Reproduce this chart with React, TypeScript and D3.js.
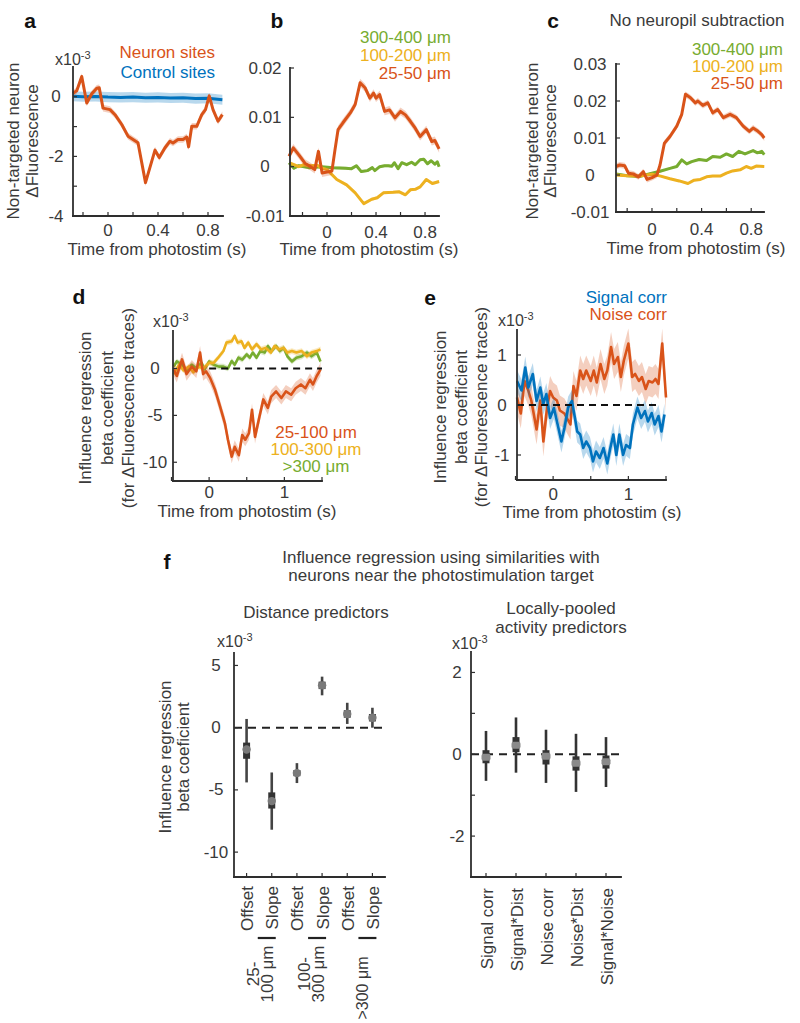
import React from "react";
import * as d3 from "d3";

type Pt = [number, number];

// ---------- Panel a (x10^-3) ----------
const neuronSitesA: Pt[] = [[-0.28,0.12],[-0.25,0.2],[-0.21,0.68],[-0.17,-0.21],[-0.13,0.1],[-0.09,0.29],[-0.07,0.3],[-0.04,-0.38],[0.016,-0.43],[0.056,-0.6],[0.11,-0.93],[0.16,-1.32],[0.2,-1.43],[0.24,-1.54],[0.3,-2.88],[0.376,-1.79],[0.41,-2.04],[0.456,-1.71],[0.496,-1.49],[0.52,-1.55],[0.56,-1.43],[0.6,-1.43],[0.63,-1.35],[0.645,-1.68],[0.67,-0.99],[0.71,-0.99],[0.75,-0.6],[0.78,-0.43],[0.81,0.03],[0.84,-0.43],[0.88,-0.82],[0.915,-0.6]];
const controlSitesA: Pt[] = [[-0.28,0.02],[-0.2,0.0],[-0.1,0.01],[0,-0.01],[0.1,-0.02],[0.2,-0.01],[0.3,-0.03],[0.4,-0.02],[0.5,-0.04],[0.6,-0.03],[0.7,-0.06],[0.8,-0.05],[0.915,-0.1]];

// ---------- Panel b ----------
const near25_50B: Pt[] = [[-0.31,0.0021],[-0.275,0.0038],[-0.23,0.0024],[-0.18,0.0007],[-0.14,0.0001],[-0.1,-0.0006],[-0.07,0.0031],[-0.04,-0.0013],[0.0,-0.0011],[0.04,-0.0009],[0.065,0.0034],[0.09,0.0075],[0.13,0.0089],[0.19,0.0109],[0.23,0.0126],[0.27,0.017],[0.31,0.016],[0.35,0.0139],[0.38,0.0149],[0.4,0.0139],[0.43,0.0146],[0.47,0.0112],[0.51,0.0115],[0.555,0.0099],[0.6,0.0112],[0.64,0.0105],[0.68,0.0092],[0.72,0.0078],[0.76,0.0061],[0.81,0.0075],[0.855,0.0051],[0.88,0.0053],[0.915,0.0036]];
const mid100_200B: Pt[] = [[-0.3,0.0007],[-0.26,0.0003],[-0.23,0.0],[-0.19,0.0004],[-0.13,0.0002],[-0.08,0.0003],[-0.04,-0.0003],[0.0,-0.0006],[0.08,-0.0026],[0.16,-0.0037],[0.23,-0.0053],[0.3,-0.0075],[0.365,-0.0066],[0.41,-0.0063],[0.46,-0.0053],[0.54,-0.0052],[0.59,-0.0051],[0.64,-0.0057],[0.68,-0.0047],[0.72,-0.0046],[0.76,-0.0041],[0.81,-0.0026],[0.86,-0.0034],[0.915,-0.003]];
const far300_400B: Pt[] = [[-0.31,0.0008],[-0.27,-0.0003],[-0.23,0.0002],[-0.15,-0.0002],[-0.05,0.0],[0.05,-0.0002],[0.15,-0.0003],[0.2,-0.0004],[0.24,0.0002],[0.28,-0.001],[0.33,-0.0008],[0.37,-0.0002],[0.39,-0.0008],[0.43,0.0],[0.47,0.0002],[0.5,0.0002],[0.53,0.0001],[0.55,0.0008],[0.58,-0.0004],[0.61,0.0008],[0.65,0.0004],[0.69,0.0009],[0.72,0.0004],[0.76,0.0014],[0.79,0.0015],[0.82,0.0006],[0.85,0.0012],[0.88,0.0005],[0.9,0.001],[0.915,0.0]];

// ---------- Panel c ----------
const near25_50C: Pt[] = [[-0.29,0.0023],[-0.26,0.0027],[-0.22,0.0025],[-0.19,0.0005],[-0.15,0.0003],[-0.11,-0.0005],[-0.07,0.0009],[-0.04,-0.0012],[0.0,-0.0007],[0.04,0.0],[0.065,0.0027],[0.1,0.0086],[0.145,0.0104],[0.2,0.0132],[0.24,0.0164],[0.27,0.0218],[0.31,0.0209],[0.35,0.0195],[0.37,0.02],[0.41,0.0188],[0.45,0.0195],[0.49,0.0168],[0.53,0.0177],[0.575,0.0155],[0.63,0.0164],[0.68,0.0155],[0.735,0.0132],[0.785,0.0118],[0.815,0.0127],[0.855,0.0118],[0.885,0.0109],[0.905,0.01]];
const mid100_200C: Pt[] = [[-0.29,0.0],[-0.2,-0.0002],[-0.1,-0.0003],[0.0,0.0002],[0.07,-0.0003],[0.145,-0.001],[0.22,-0.0016],[0.29,-0.0023],[0.34,-0.0014],[0.39,-0.0012],[0.44,-0.0005],[0.49,-0.0003],[0.55,-0.0003],[0.6,0.0005],[0.65,0.0011],[0.71,0.0014],[0.76,0.0023],[0.8,0.0018],[0.84,0.0024],[0.905,0.0023]];
const far300_400C: Pt[] = [[-0.29,0.0003],[-0.2,-0.0002],[-0.1,-0.0004],[0.0,0.0005],[0.065,0.001],[0.145,0.0018],[0.2,0.0023],[0.24,0.0041],[0.28,0.003],[0.32,0.0036],[0.38,0.0042],[0.44,0.0039],[0.49,0.005],[0.55,0.0048],[0.6,0.0057],[0.65,0.005],[0.7,0.0064],[0.75,0.0057],[0.815,0.0066],[0.85,0.006],[0.885,0.0064],[0.905,0.0055]];

// ---------- Panel d (x10^-3) ----------
const d25_100: Pt[] = [[-0.47,-0.1],[-0.43,-0.8],[-0.36,0.97],[-0.3,-0.6],[-0.23,0.2],[-0.17,-0.3],[-0.12,1.7],[-0.08,-0.6],[-0.04,-0.3],[0.013,-1.0],[0.08,-2.3],[0.145,-4.05],[0.21,-5.85],[0.25,-7.6],[0.3,-9.4],[0.34,-8.35],[0.395,-9.25],[0.44,-7.1],[0.48,-7.6],[0.53,-6.9],[0.57,-4.4],[0.61,-7.3],[0.67,-5.1],[0.72,-3.3],[0.78,-4.2],[0.825,-3.0],[0.89,-2.45],[0.96,-3.15],[1.02,-2.45],[1.09,-2.8],[1.15,-2.1],[1.22,-1.7],[1.28,-2.1],[1.34,-1.2],[1.38,-1.7],[1.43,-0.8],[1.46,-0.4],[1.48,-0.1]];
const d100_300: Pt[] = [[-0.47,-0.6],[-0.4,0.4],[-0.34,-0.2],[-0.27,0.2],[-0.21,-0.4],[-0.14,0.2],[-0.08,0.0],[0.0,0.6],[0.06,0.6],[0.12,1.15],[0.19,1.86],[0.23,2.76],[0.3,2.9],[0.34,3.47],[0.38,2.76],[0.43,2.9],[0.47,2.2],[0.52,2.76],[0.57,2.04],[0.63,2.6],[0.69,2.04],[0.75,2.2],[0.82,1.7],[0.87,2.4],[0.93,2.04],[0.99,2.2],[1.04,1.7],[1.1,1.86],[1.16,1.7],[1.23,1.86],[1.3,1.3],[1.36,1.7],[1.43,1.86],[1.48,2.04]];
const d300plus: Pt[] = [[-0.47,0.2],[-0.43,0.75],[-0.36,0.4],[-0.3,-0.2],[-0.23,0.4],[-0.17,0.0],[-0.1,0.6],[-0.06,-0.1],[0.0,0.75],[0.06,0.4],[0.13,0.2],[0.19,0.2],[0.25,0.0],[0.3,0.8],[0.34,0.4],[0.39,1.15],[0.44,0.95],[0.5,1.5],[0.54,1.15],[0.58,1.7],[0.63,1.15],[0.68,1.86],[0.74,1.7],[0.78,2.4],[0.83,1.86],[0.89,2.4],[0.94,1.86],[0.99,2.2],[1.04,1.3],[1.1,0.75],[1.16,1.15],[1.23,1.3],[1.3,1.7],[1.36,1.3],[1.43,1.7],[1.48,0.75]];

// ---------- Panel e (x10^-3) ----------
const signalCorrE: Pt[] = [[-0.48,0.48],[-0.42,0.29],[-0.37,0.75],[-0.33,0.35],[-0.27,0.62],[-0.22,0.08],[-0.17,0.35],[-0.13,0.02],[-0.09,0.22],[-0.04,-0.26],[0.01,-0.06],[0.06,-0.39],[0.11,-0.73],[0.15,-0.46],[0.2,-0.05],[0.25,0.08],[0.29,-0.26],[0.32,-0.53],[0.36,-0.59],[0.4,-0.86],[0.44,-0.73],[0.49,-0.86],[0.53,-1.13],[0.57,-0.93],[0.62,-1.06],[0.67,-0.86],[0.72,-1.17],[0.76,-0.86],[0.8,-0.59],[0.84,-1.0],[0.88,-0.59],[0.93,-1.0],[0.97,-0.8],[1.02,-0.86],[1.06,-0.39],[1.12,-0.05],[1.17,-0.26],[1.22,-0.12],[1.26,-0.33],[1.31,-0.16],[1.35,-0.39],[1.4,-0.22],[1.44,-0.53],[1.48,-0.19]];
const noiseCorrE: Pt[] = [[-0.48,0.15],[-0.43,-0.17],[-0.38,0.48],[-0.33,0.29],[-0.29,0.09],[-0.22,-0.49],[-0.17,0.09],[-0.13,-0.73],[-0.08,-0.05],[-0.04,0.28],[0.0,0.15],[0.05,0.09],[0.09,-0.11],[0.15,-0.17],[0.23,-0.39],[0.27,0.38],[0.31,0.18],[0.36,0.69],[0.4,0.52],[0.44,0.69],[0.5,0.48],[0.54,0.69],[0.58,0.45],[0.63,0.82],[0.68,0.52],[0.72,0.69],[0.77,1.16],[0.81,0.82],[0.86,0.96],[0.9,0.56],[0.94,0.89],[1.0,1.23],[1.05,0.56],[1.09,0.62],[1.14,0.48],[1.18,0.56],[1.23,0.32],[1.27,0.48],[1.32,0.45],[1.36,0.52],[1.4,0.42],[1.45,1.23],[1.5,0.15]];

// ---------- Panel f (x10^-3) ----------
const distCats = ["Offset", "Slope", "Offset", "Slope", "Offset", "Slope"];
const distMean = [-1.75, -5.9, -3.65, 3.4, 1.1, 0.8];
const distLo = [-4.4, -8.2, -4.45, 2.6, 0.3, 0.0];
const distHi = [0.7, -3.6, -2.85, 4.1, 2.0, 1.6];
const distBoxLo = [-2.5, -6.5, -3.9, 3.1, 0.8, 0.5];
const distBoxHi = [-1.2, -5.2, -3.4, 3.7, 1.4, 1.1];
const distGroups = [["25-", "100 μm"], ["100-", "300 μm"], [">300 μm"]];

const actCats = ["Signal corr", "Signal*Dist", "Noise corr", "Noise*Dist", "Signal*Noise"];
const actMean = [-0.07, 0.22, -0.05, -0.22, -0.18];
const actLo = [-0.65, -0.45, -0.7, -0.92, -0.8];
const actHi = [0.57, 0.9, 0.6, 0.5, 0.42];
const actBoxLo = [-0.22, 0.05, -0.25, -0.4, -0.35];
const actBoxHi = [0.1, 0.42, 0.1, -0.05, -0.03];

const ORANGE = "#D95319";
const BLUE = "#0072BD";
const YELLOW = "#EDB120";
const GREEN = "#77AC30";
const TXT = "#3a3a3a";
const AX = "#2e2e2e";
const FONT = "'Liberation Sans', Arial, Helvetica, sans-serif";
const FS = 17;

type Scale = d3.ScaleLinear<number, number>;

function Trace({ data, xs, ys, color, err, w = 3 }: { data: Pt[]; xs: Scale; ys: Scale; color: string; err: number; w?: number }) {
  const area = d3.area<Pt>().x((d) => xs(d[0])).y0((d) => ys(d[1] - err)).y1((d) => ys(d[1] + err));
  const line = d3.line<Pt>().x((d) => xs(d[0])).y((d) => ys(d[1]));
  return (
    <g>
      <path d={area(data) || ""} fill={color} opacity={0.28} />
      <path d={line(data) || ""} fill="none" stroke={color} strokeWidth={w} strokeLinejoin="round" />
    </g>
  );
}

function Axes({ xs, ys, xTicks, xLabeled, yTicks, yLabeled, yLabX, xLabY }: { xs: Scale; ys: Scale; xTicks: number[]; xLabeled: number[]; yTicks: number[]; yLabeled: number[]; yLabX: number; xLabY: number }) {
  const [x0, x1] = xs.range();
  const [yb, yt] = ys.range();
  return (
    <g>
      <line x1={x0} y1={yb} x2={x1} y2={yb} stroke={AX} strokeWidth={1.8} strokeLinecap="square" />
      <line x1={x0} y1={yb} x2={x0} y2={yt} stroke={AX} strokeWidth={1.8} strokeLinecap="square" />
      {xTicks.map((t, i) => (
        <line key={"xt" + i} x1={xs(t)} x2={xs(t)} y1={yb} y2={yb - 4} stroke={AX} strokeWidth={1.2} />
      ))}
      {yTicks.map((t, i) => (
        <line key={"yt" + i} x1={x0} x2={x0 + 4} y1={ys(t)} y2={ys(t)} stroke={AX} strokeWidth={1.2} />
      ))}
      {xLabeled.map((t, i) => (
        <text key={"xl" + i} x={xs(t)} y={xLabY} textAnchor="middle" dominantBaseline="central" fontSize={FS} fill={TXT}>
          {String(t)}
        </text>
      ))}
      {yLabeled.map((t, i) => (
        <text key={"yl" + i} x={yLabX} y={ys(t)} textAnchor="middle" dominantBaseline="central" fontSize={FS} fill={TXT}>
          {String(t)}
        </text>
      ))}
    </g>
  );
}

function RotText({ x, y, children, anchor = "middle", size = FS, fill = TXT }: { x: number; y: number; children: React.ReactNode; anchor?: string; size?: number; fill?: string }) {
  return (
    <text transform={`translate(${x},${y}) rotate(-90)`} textAnchor={anchor as any} dominantBaseline="central" fontSize={size} fill={fill}>
      {children}
    </text>
  );
}

function Txt({ x, y, children, anchor = "middle", size = FS, fill = TXT, weight = "normal" }: { x: number; y: number; children: React.ReactNode; anchor?: string; size?: number; fill?: string; weight?: string }) {
  return (
    <text x={x} y={y} textAnchor={anchor as any} dominantBaseline="central" fontSize={size} fill={fill} fontWeight={weight}>
      {children}
    </text>
  );
}

function Exp({ x, y }: { x: number; y: number }) {
  return (
    <text x={x} y={y} fontSize={16} fill={TXT}>
      x10<tspan dy={-6} fontSize={11}>-3</tspan>
    </text>
  );
}

export default function App() {
  const ax = d3.scaleLinear().domain([-0.28, 0.92]).range([73, 223]);
  const ay = d3.scaleLinear().domain([-4, 1]).range([216, 67]);
  const bx = d3.scaleLinear().domain([-0.302, 0.914]).range([290, 439]);
  const by = d3.scaleLinear().domain([-0.01, 0.02]).range([216, 68]);
  const cx = d3.scaleLinear().domain([-0.29, 0.903]).range([616, 764]);
  const cy = d3.scaleLinear().domain([-0.01, 0.03]).range([212, 64]);
  const dx = d3.scaleLinear().domain([-0.48, 1.5]).range([173, 322]);
  const dy = d3.scaleLinear().domain([-12, 4]).range([481, 331]);
  const ex = d3.scaleLinear().domain([-0.48, 1.5]).range([517, 666]);
  const ey = d3.scaleLinear().domain([-1.5, 1.5]).range([480, 330]);
  const fx = d3.scaleLinear().domain([0.5, 6.5]).range([234, 385]);
  const fy = d3.scaleLinear().domain([-12, 6]).range([877, 653]);
  const gx = d3.scaleLinear().domain([0.5, 5.5]).range([471, 621]);
  const gy = d3.scaleLinear().domain([-3, 2.5]).range([877, 652]);

  const tA = [-0.2, 0, 0.2, 0.4, 0.6, 0.8];
  const tD = [-0.5, 0, 0.5, 1, 1.5];

  return (
    <svg width={800} height={1023} style={{ position: "absolute", left: 0, top: 0, background: "#fff" }} fontFamily={FONT}>
      {/* Panel letters */}
      <Txt x={30} y={20} size={21} weight="bold" fill="#111">a</Txt>
      <Txt x={277} y={20} size={21} weight="bold" fill="#111">b</Txt>
      <Txt x={553} y={20} size={21} weight="bold" fill="#111">c</Txt>
      <Txt x={79} y={296} size={21} weight="bold" fill="#111">d</Txt>
      <Txt x={430} y={297} size={21} weight="bold" fill="#111">e</Txt>
      <Txt x={167} y={561} size={21} weight="bold" fill="#111">f</Txt>

      {/* ---------- a ---------- */}
      <Trace data={controlSitesA} xs={ax} ys={ay} color={BLUE} err={0.17} />
      <Trace data={neuronSitesA} xs={ax} ys={ay} color={ORANGE} err={0.11} />
      <Axes xs={ax} ys={ay} xTicks={tA} xLabeled={[0, 0.4, 0.8]} yTicks={[-4, -3, -2, -1, 0]} yLabeled={[-4, -2, 0]} yLabX={56} xLabY={230} />
      <Exp x={55} y={65} />
      <Txt x={215} y={52} anchor="end" fill={ORANGE}>Neuron sites</Txt>
      <Txt x={215} y={72} anchor="end" fill={BLUE}>Control sites</Txt>
      <RotText x={13} y={141}>Non-targeted neuron</RotText>
      <RotText x={32} y={141}>ΔFluorescence</RotText>
      <Txt x={157} y={249}>Time from photostim (s)</Txt>

      {/* ---------- b ---------- */}
      <Trace data={far300_400B} xs={bx} ys={by} color={GREEN} err={0.0003} />
      <Trace data={mid100_200B} xs={bx} ys={by} color={YELLOW} err={0.0003} />
      <Trace data={near25_50B} xs={bx} ys={by} color={ORANGE} err={0.0008} />
      <Axes xs={bx} ys={by} xTicks={tA} xLabeled={[0, 0.4, 0.8]} yTicks={[-0.01, 0, 0.01, 0.02]} yLabeled={[-0.01, 0, 0.01, 0.02]} yLabX={265} xLabY={232} />
      <Txt x={451} y={37} anchor="end" fill={GREEN}>300-400 μm</Txt>
      <Txt x={451} y={55} anchor="end" fill={YELLOW}>100-200 μm</Txt>
      <Txt x={451} y={73} anchor="end" fill={ORANGE}>25-50 μm</Txt>
      <Txt x={369} y={249}>Time from photostim (s)</Txt>

      {/* ---------- c ---------- */}
      <Trace data={far300_400C} xs={cx} ys={cy} color={GREEN} err={0.0003} />
      <Trace data={mid100_200C} xs={cx} ys={cy} color={YELLOW} err={0.0003} />
      <Trace data={near25_50C} xs={cx} ys={cy} color={ORANGE} err={0.0008} />
      <Axes xs={cx} ys={cy} xTicks={tA} xLabeled={[0, 0.4, 0.8]} yTicks={[-0.01, 0, 0.01, 0.02, 0.03]} yLabeled={[-0.01, 0, 0.01, 0.02, 0.03]} yLabX={590} xLabY={229} />
      <Txt x={697} y={20}>No neuropil subtraction</Txt>
      <Txt x={783} y={49} anchor="end" fill={GREEN}>300-400 μm</Txt>
      <Txt x={783} y={66} anchor="end" fill={YELLOW}>100-200 μm</Txt>
      <Txt x={783} y={83} anchor="end" fill={ORANGE}>25-50 μm</Txt>
      <RotText x={532} y={141}>Non-targeted neuron</RotText>
      <RotText x={550} y={141}>ΔFluorescence</RotText>
      <Txt x={696} y={248}>Time from photostim (s)</Txt>

      {/* ---------- d ---------- */}
      <Trace data={d300plus} xs={dx} ys={dy} color={GREEN} err={0.3} w={2.6} />
      <Trace data={d100_300} xs={dx} ys={dy} color={YELLOW} err={0.3} w={2.6} />
      <Trace data={d25_100} xs={dx} ys={dy} color={ORANGE} err={0.7} w={2.6} />
      <line x1={dx(0)} x2={dx(1.5)} y1={dy(0)} y2={dy(0)} stroke="#111" strokeWidth={1.8} strokeDasharray="7,5" />
      <Axes xs={dx} ys={dy} xTicks={tD} xLabeled={[0, 1]} yTicks={[-10, -5, 0]} yLabeled={[-10, -5, 0]} yLabX={155} xLabY={492} />
      <Exp x={153} y={327} />
      <Txt x={316} y={432} fill={ORANGE}>25-100 μm</Txt>
      <Txt x={316} y={449} fill={YELLOW}>100-300 μm</Txt>
      <Txt x={316} y={466} fill={GREEN}>&gt;300 μm</Txt>
      <RotText x={85} y={408}>Influence regression</RotText>
      <RotText x={107} y={408}>beta coefficient</RotText>
      <RotText x={128} y={408}>(for ΔFluorescence traces)</RotText>
      <Txt x={247} y={511}>Time from photostim (s)</Txt>

      {/* ---------- e ---------- */}
      <Trace data={noiseCorrE} xs={ex} ys={ey} color={ORANGE} err={0.3} w={2.6} />
      <Trace data={signalCorrE} xs={ex} ys={ey} color={BLUE} err={0.22} w={2.6} />
      <line x1={ex(-0.48)} x2={ex(1.4)} y1={ey(0)} y2={ey(0)} stroke="#111" strokeWidth={1.8} strokeDasharray="7,5" />
      <Axes xs={ex} ys={ey} xTicks={tD} xLabeled={[0, 1]} yTicks={[-1, 0, 1]} yLabeled={[-1, 0, 1]} yLabX={502} xLabY={494} />
      <Exp x={498} y={326} />
      <Txt x={667} y={297} anchor="end" fill={BLUE}>Signal corr</Txt>
      <Txt x={667} y={314} anchor="end" fill={ORANGE}>Noise corr</Txt>
      <RotText x={440} y={407}>Influence regression</RotText>
      <RotText x={461} y={407}>beta coefficient</RotText>
      <RotText x={481} y={407}>(for ΔFluorescence traces)</RotText>
      <Txt x={592} y={512}>Time from photostim (s)</Txt>

      {/* ---------- f ---------- */}
      <Txt x={441} y={557}>Influence regression using similarities with</Txt>
      <Txt x={441} y={575}>neurons near the photostimulation target</Txt>
      <Txt x={316} y={612}>Distance predictors</Txt>
      <Txt x={561} y={608}>Locally-pooled</Txt>
      <Txt x={561} y={627}>activity predictors</Txt>

      {/* f left */}
      <line x1={fx(0.5)} x2={fx(6.5)} y1={fy(0)} y2={fy(0)} stroke="#222" strokeWidth={2} strokeDasharray="8,6" />
      <Axes xs={fx} ys={fy} xTicks={[1, 2, 3, 4, 5, 6]} xLabeled={[]} yTicks={[-10, -5, 0, 5]} yLabeled={[-10, -5, 0, 5]} yLabX={216} xLabY={0} />
      {distMean.map((m, i) => (
        <g key={"dm" + i}>
          <line x1={fx(i + 1)} x2={fx(i + 1)} y1={fy(distLo[i])} y2={fy(distHi[i])} stroke="#444" strokeWidth={2.6} />
          <line x1={fx(i + 1)} x2={fx(i + 1)} y1={fy(distBoxLo[i])} y2={fy(distBoxHi[i])} stroke="#333" strokeWidth={7} />
          <circle cx={fx(i + 1)} cy={fy(m)} r={4.2} fill="#7a7a7a" />
        </g>
      ))}
      <Exp x={217} y={647} />
      <RotText x={165} y={757}>Influence regression</RotText>
      <RotText x={183} y={757}>beta coeficient</RotText>
      {distCats.map((c, i) => (
        <RotText key={"dc" + i} x={fx(i + 1) + 1} y={886} anchor="end">{c}</RotText>
      ))}
      {distGroups.map((g, k) => {
        const xc = fx(2 * k + 2);
        return (
          <g key={"dg" + k}>
            <line x1={xc - 14} x2={xc + 4} y1={938} y2={938} stroke="#222" strokeWidth={2.2} />
            {g.length === 2 ? (
              <g>
                <RotText x={xc - 18} y={974}>{g[0]}</RotText>
                <RotText x={xc - 4} y={974}>{g[1]}</RotText>
              </g>
            ) : (
              <RotText x={xc - 10} y={988} size={16}>{g[0]}</RotText>
            )}
          </g>
        );
      })}

      {/* f right */}
      <line x1={gx(0.5)} x2={gx(5.5)} y1={gy(0)} y2={gy(0)} stroke="#222" strokeWidth={2} strokeDasharray="8,6" />
      <Axes xs={gx} ys={gy} xTicks={[1, 2, 3, 4, 5]} xLabeled={[]} yTicks={[-2, -1, 0, 1, 2]} yLabeled={[-2, 0, 2]} yLabX={457} xLabY={0} />
      {actMean.map((m, i) => (
        <g key={"am" + i}>
          <line x1={gx(i + 1)} x2={gx(i + 1)} y1={gy(actLo[i])} y2={gy(actHi[i])} stroke="#333" strokeWidth={2.6} />
          <line x1={gx(i + 1)} x2={gx(i + 1)} y1={gy(actBoxLo[i])} y2={gy(actBoxHi[i])} stroke="#333" strokeWidth={7} />
          <rect x={gx(i + 1) - 4.5} y={gy(m) - 3.5} width={9} height={7} rx={2} fill="#8a8a8a" />
        </g>
      ))}
      <Exp x={452} y={649} />
      {actCats.map((c, i) => (
        <RotText key={"ac" + i} x={gx(i + 1) + 1} y={888} anchor="end">{c}</RotText>
      ))}
    </svg>
  );
}
